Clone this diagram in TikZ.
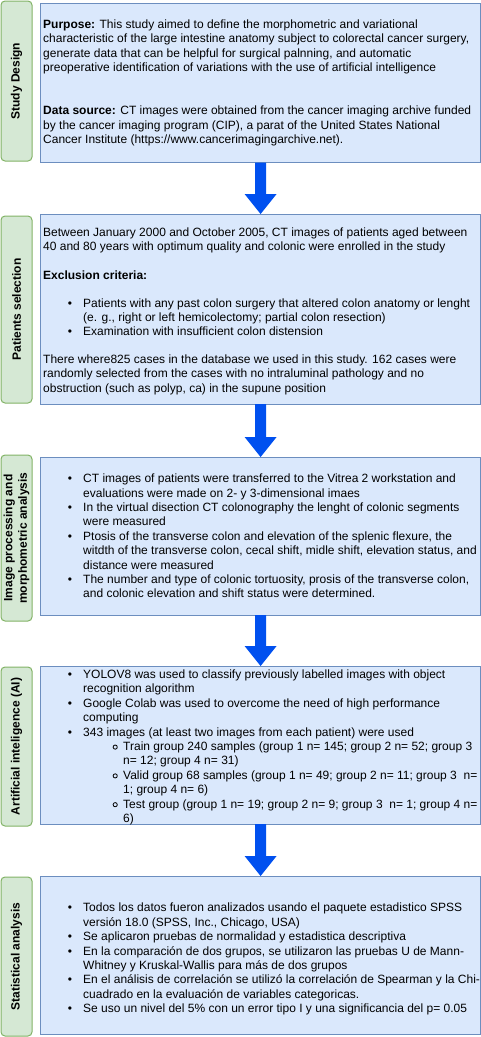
\documentclass[tikz,border=0pt]{standalone}
\usepackage{fontspec}
\setmainfont{Liberation Sans}
\usetikzlibrary{calc}
\definecolor{bfill}{HTML}{DAE8FC}
\definecolor{bline}{HTML}{6C8EBF}
\definecolor{gfill}{HTML}{D5E8D4}
\definecolor{gline}{HTML}{82B366}
\definecolor{flowblue}{HTML}{0050EF}
\newcommand\bul{\makebox[40pt][r]{\textbullet\hspace{11pt}}}
\newcommand\ind{\hspace*{40pt}}
\newcommand\opencirc{\tikz[baseline=0pt]\draw[line width=0.8pt] (0pt,3.4pt) circle[radius=2.1pt];}
\newcommand\sbul{\makebox[80pt][r]{\opencirc\hspace{5.5pt}}}
\newcommand\sind{\hspace*{80pt}}
\newcommand\flowarrow[2]{\fill[flowblue] ($(#1.south)+(-5.5,0)$) -- ($(#2.north)+(-5.5,-20)$) -- ($(#2.north)+(-16,-20)$) -- (#2.north) -- ($(#2.north)+(16,-20)$) -- ($(#2.north)+(5.5,-20)$) -- ($(#1.south)+(5.5,0)$) -- cycle;}
\tikzset{
  bluebox/.style={draw=bline, fill=bfill, line width=1pt, inner sep=0pt, outer sep=0pt, minimum width=439.8pt},
  greenbox/.style={draw=gline, fill=gfill, line width=1pt, rounded corners=4pt, inner sep=0pt, outer sep=0pt, minimum width=31pt},
  bodytext/.style={anchor=north west, inner sep=0pt, align=left, font=\fontsize{12pt}{14.4pt}\selectfont},
  labeltext/.style={rotate=90, inner sep=0pt, align=center, font=\fontsize{12pt}{14.4pt}\selectfont\bfseries}
}
\begin{document}
\begin{tikzpicture}[x=1pt, y=-1pt]
\useasboundingbox (0,0) rectangle (481,1037);
% boxes
\node[bluebox, minimum height=159.5pt] (b1) at (260.6,82.75) {};
\node[bluebox, minimum height=190pt] (b2) at (260.6,309) {};
\node[bluebox, minimum height=158pt] (b3) at (260.6,536) {};
\node[bluebox, minimum height=158pt] (b4) at (260.6,745) {};
\node[bluebox, minimum height=158pt] (b5) at (260.6,955) {};
\node[greenbox, minimum height=160pt] (g1) at (16.5,81) {};
\node[greenbox, minimum height=187pt] (g2) at (16.5,309.5) {};
\node[greenbox, minimum height=166pt] (g3) at (16.5,538) {};
\node[greenbox, minimum height=159pt] (g4) at (16.5,746.5) {};
\node[greenbox, minimum height=159pt] (g5) at (16.5,956.5) {};
% labels
\node[labeltext] (l1) at (g1.center) {Study Design};
\node[labeltext] (l2) at (g2.center) {Patients selection};
\node[labeltext] (l3) at (g3.center) {Image processing and\\morphometric analysis};
\node[labeltext] (l4) at (g4.center) {Artificial inteligence (AI)};
\node[labeltext] (l5) at (g5.center) {Statistical analysis};
% texts
\node[bodytext] (t1) at (43,18.2) {%
\strut\textbf{Purpose:} This study aimed to define the morphometric and variational\\
\strut characteristic of the large intestine anatomy subject to colorectal cancer surgery,\\
\strut generate data that can be helpful for surgical palnning, and automatic\\
\strut preoperative identification of variations with the use of artificial intelligence\\[28.8pt]
\strut\textbf{Data source:} CT images were obtained from the cancer imaging archive funded\\
\strut by the cancer imaging program (CIP), a parat of the United States National\\
\strut Cancer Institute (https://www.cancerimagingarchive.net).};
\node[bodytext] (t2) at (43,225.9) {%
\strut Between January 2000 and October 2005, CT images of patients aged between\\
\strut 40 and 80 years with optimum quality and colonic were enrolled in the study\\[14.4pt]
\strut\textbf{Exclusion criteria:}\\[13.3pt]
\strut\bul Patients with any past colon surgery that altered colon anatomy or lenght\\
\strut\ind (e. g., right or left hemicolectomy; partial colon resection)\\
\strut\bul Examination with insufficient colon distension\\[13.3pt]
\strut There where825 cases in the database we used in this study. 162 cases were\\
\strut randomly selected from the cases with no intraluminal pathology and no\\
\strut obstruction (such as polyp, ca) in the supune position};
\node[bodytext] (t3) at (43,472.5) {%
\strut\bul CT images of patients were transferred to the Vitrea 2 workstation and\\
\strut\ind evaluations were made on 2- y 3-dimensional imaes\\
\strut\bul In the virtual disection CT colonography the lenght of colonic segments\\
\strut\ind were measured\\
\strut\bul Ptosis of the transverse colon and elevation of the splenic flexure, the\\
\strut\ind witdth of the transverse colon, cecal shift, midle shift, elevation status, and\\
\strut\ind distance were measured\\
\strut\bul The number and type of colonic tortuosity, prosis of the transverse colon,\\
\strut\ind and colonic elevation and shift status were determined.};
\node[bodytext] (t4) at (43,668.2) {%
\strut\bul YOLOV8 was used to classify previously labelled images with object\\
\strut\ind recognition algorithm\\
\strut\bul Google Colab was used to overcome the need of high performance\\
\strut\ind computing\\
\strut\bul 343 images (at least two images from each patient) were used\\
\strut\sbul Train group 240 samples (group 1 n= 145; group 2 n= 52; group 3\\
\strut\sind n= 12; group 4 n= 31)\\
\strut\sbul Valid group 68 samples (group 1 n= 49; group 2 n= 11; group 3\ \ n=\\
\strut\sind 1; group 4 n= 6)\\
\strut\sbul Test group (group 1 n= 19; group 2 n= 9; group 3\ \ n= 1; group 4 n=\\
\strut\sind 6)};
\node[bodytext] (t5) at (43,901.6) {%
\strut\bul Todos los datos fueron analizados usando el paquete estadistico SPSS\\
\strut\ind versión 18.0 (SPSS, Inc., Chicago, USA)\\
\strut\bul Se aplicaron pruebas de normalidad y estadistica descriptiva\\
\strut\bul En la comparación de dos grupos, se utilizaron las pruebas U de Mann-\\
\strut\ind Whitney y Kruskal-Wallis para más de dos grupos\\
\strut\bul En el análisis de correlación se utilizó la correlación de Spearman y la Chi-\\
\strut\ind cuadrado en la evaluación de variables categoricas.\\
\strut\bul Se uso un nivel del 5\% con un error tipo I y una significancia del p= 0.05};
% arrows
\flowarrow{b1}{b2}
\flowarrow{b2}{b3}
\flowarrow{b3}{b4}
\flowarrow{b4}{b5}
\end{tikzpicture}
\end{document}
